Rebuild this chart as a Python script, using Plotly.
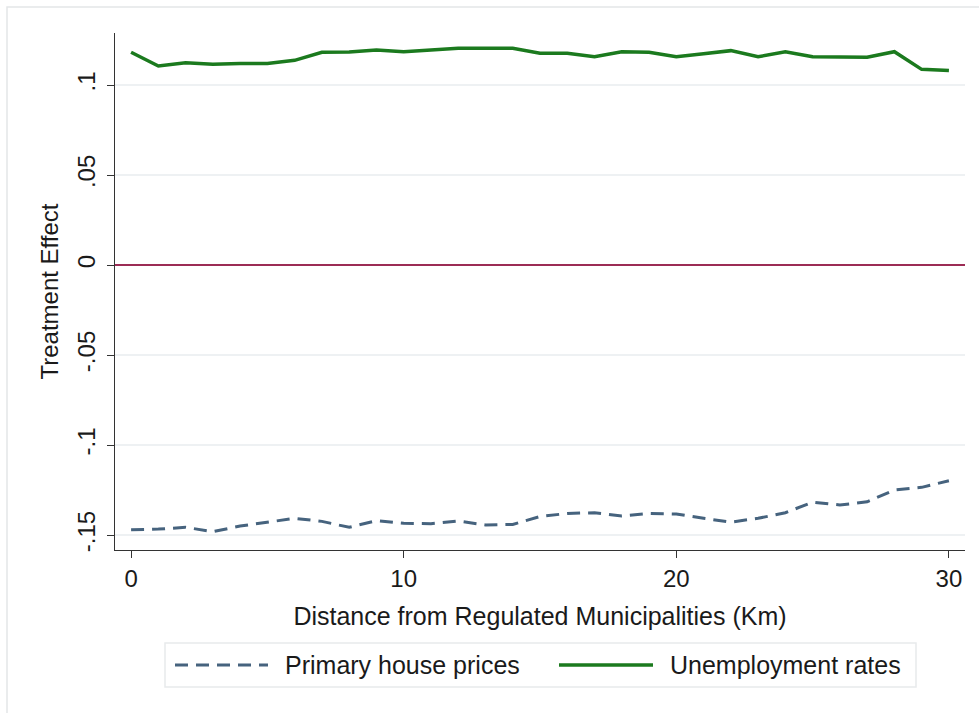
import plotly.graph_objects as go

# Distance bands (km) from regulated municipalities
distance_km = list(range(0, 31))

# Estimated treatment effects by distance band
house_prices = [
    -0.1470, -0.1467, -0.1457, -0.1481, -0.1450, -0.1428, -0.1407, -0.1424,
    -0.1457, -0.1420, -0.1435, -0.1437, -0.1422, -0.1444, -0.1441, -0.1397,
    -0.1380, -0.1376, -0.1394, -0.1380, -0.1383, -0.1407, -0.1428, -0.1407,
    -0.1376, -0.1317, -0.1333, -0.1315, -0.1250, -0.1235, -0.1198,
]
unemployment = [
    0.1182, 0.1106, 0.1124, 0.1115, 0.1119, 0.1119, 0.1137, 0.1182,
    0.1184, 0.1194, 0.1185, 0.1194, 0.1204, 0.1204, 0.1204, 0.1177,
    0.1176, 0.1157, 0.1185, 0.1182, 0.1157, 0.1174, 0.1191, 0.1157,
    0.1185, 0.1157, 0.1157, 0.1154, 0.1185, 0.1087, 0.1080,
]

x_ticks = [0, 10, 20, 30]
y_ticks = [-0.15, -0.1, -0.05, 0, 0.05, 0.1]
y_tick_labels = ["-.15", "-.1", "-.05", "0", ".05", ".1"]

series_names = ["Primary house prices", "Unemployment rates"]
x_title = "Distance from Regulated Municipalities (Km)"
y_title = "Treatment Effect"

BLUE = "#46637e"
GREEN = "#1b7a1e"
MAROON = "#9c2c55"
TEXT = "#1a1a1a"
FONT = "Arial, Liberation Sans, sans-serif"

W, H = 979, 713
ML, MR, MT, MB = 115, 14, 33, 163
PW, PH = W - ML - MR, H - MT - MB


def px_x(p):
    return (p - ML) / PW


def px_y(p):
    return (H - MB - p) / PH


fig = go.Figure()

fig.add_trace(go.Scatter(
    x=distance_km, y=house_prices, mode="lines", name=series_names[0],
    line=dict(color=BLUE, width=3, dash="13px,8px"), showlegend=False,
))
fig.add_trace(go.Scatter(
    x=distance_km, y=unemployment, mode="lines", name=series_names[1],
    line=dict(color=GREEN, width=3.5), showlegend=False,
))

shapes = [
    # zero reference line
    dict(type="line", xref="paper", yref="y", x0=0, x1=1, y0=0, y1=0,
         line=dict(color=MAROON, width=2), layer="above"),
    # outer graph region frame
    dict(type="rect", xref="paper", yref="paper",
         x0=px_x(7), x1=px_x(1000), y0=px_y(7), y1=px_y(740),
         line=dict(color="#e4e6e8", width=1.5), layer="below"),
    # legend box
    dict(type="rect", xref="paper", yref="paper",
         x0=px_x(165), x1=px_x(916), y0=px_y(643), y1=px_y(687),
         line=dict(color="#e8eaec", width=1.5), fillcolor="white", layer="below"),
    # legend keys
    dict(type="line", xref="paper", yref="paper",
         x0=px_x(175), x1=px_x(268), y0=px_y(665), y1=px_y(665),
         line=dict(color=BLUE, width=3, dash="13px,8px")),
    dict(type="line", xref="paper", yref="paper",
         x0=px_x(559), x1=px_x(653), y0=px_y(665), y1=px_y(665),
         line=dict(color=GREEN, width=3.5)),
]

annotations = [
    dict(text=series_names[0], xref="paper", yref="paper",
         x=px_x(283), y=px_y(665), xanchor="left", yanchor="middle",
         showarrow=False, font=dict(family=FONT, size=25, color=TEXT)),
    dict(text=series_names[1], xref="paper", yref="paper",
         x=px_x(668), y=px_y(665), xanchor="left", yanchor="middle",
         showarrow=False, font=dict(family=FONT, size=25, color=TEXT)),
]

fig.update_layout(
    width=W, height=H,
    margin=dict(l=ML, r=MR, t=MT, b=MB),
    paper_bgcolor="white", plot_bgcolor="white",
    font=dict(family=FONT, size=24, color=TEXT),
    shapes=shapes, annotations=annotations,
    showlegend=False,
)

fig.update_xaxes(
    range=[-0.59, 30.59], tickvals=x_ticks,
    showgrid=False, zeroline=False,
    showline=True, linecolor="#333", linewidth=1.3,
    ticks="outside", ticklen=7, tickcolor="#333", tickwidth=1.3,
    tickfont=dict(size=24),
    title=dict(text=x_title, font=dict(size=25), standoff=16),
)

fig.update_yaxes(
    range=[-0.1583, 0.1289], tickvals=y_ticks, ticktext=y_tick_labels,
    tickangle=-90, ticklabelstandoff=2,
    showgrid=True, gridcolor="#eef1f3", gridwidth=1.5, zeroline=False,
    showline=True, linecolor="#333", linewidth=1.3,
    ticks="outside", ticklen=7, tickcolor="#333", tickwidth=1.3,
    tickfont=dict(size=24),
    title=dict(text=y_title, font=dict(size=24), standoff=7),
)

fig.write_html("out.html")
